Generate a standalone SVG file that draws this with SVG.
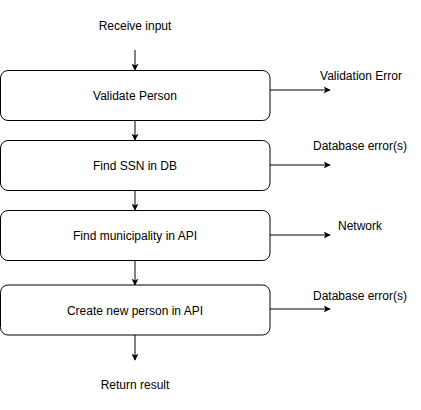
<svg xmlns="http://www.w3.org/2000/svg" width="421" height="410" viewBox="0 0 421 410">
<style>
text{font-family:"Liberation Sans",Arial,sans-serif;font-size:12px;fill:#000;text-anchor:middle;dominant-baseline:central}
.box{fill:#fff;stroke:#000;stroke-width:1}
.c{stroke:#000;stroke-width:1;fill:none;marker-end:url(#ah)}
</style>
<defs>
<marker id="ah" viewBox="0 0 10 10" refX="9" refY="5" markerWidth="7" markerHeight="7" markerUnits="userSpaceOnUse" orient="auto">
<path d="M0,0 L10,5 L0,10 L2.5,5 Z" fill="#000"/>
</marker>
</defs>
<rect width="421" height="410" fill="#fff"/>
<g id="connectors">
<path class="c" d="M135,50 V70"/>
<path class="c" d="M135,120 V140"/>
<path class="c" d="M135,190 V210"/>
<path class="c" d="M135,260 V285"/>
<path class="c" d="M135,335 V360"/>
<path class="c" d="M270,90 H330"/>
<path class="c" d="M270,165 H330"/>
<path class="c" d="M270,235 H330"/>
<path class="c" d="M270,309 H330"/>
</g>
<g id="receive"><text x="135" y="26">Receive input</text></g>
<g id="validate"><rect class="box" x="0.5" y="70.5" width="269.5" height="50" rx="7.5"/><text x="135" y="96">Validate Person</text></g>
<g id="findssn"><rect class="box" x="0.5" y="140.5" width="269.5" height="50" rx="7.5"/><text x="135" y="166">Find SSN in DB</text></g>
<g id="findmuni"><rect class="box" x="0.5" y="210.5" width="269.5" height="50" rx="7.5"/><text x="135" y="236">Find municipality in API</text></g>
<g id="create"><rect class="box" x="0.5" y="285" width="269.5" height="50" rx="7.5"/><text x="135" y="311">Create new person in API</text></g>
<g id="return"><text x="135" y="385">Return result</text></g>
<g id="err1"><text x="361" y="76">Validation Error</text></g>
<g id="err2"><text x="360" y="146">Database error(s)</text></g>
<g id="err3"><text x="360" y="226">Network</text></g>
<g id="err4"><text x="360" y="296">Database error(s)</text></g>
</svg>
